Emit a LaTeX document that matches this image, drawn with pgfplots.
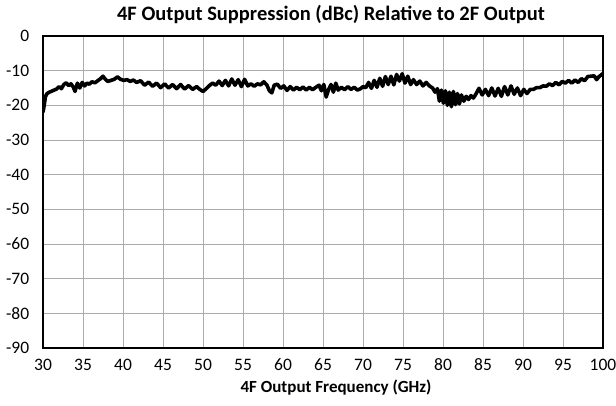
\documentclass[border=0pt]{standalone}
\usepackage{fontspec}
\setmainfont{Carlito}
\usepackage{pgfplots}
\pgfplotsset{compat=1.18}
\pgfplotstableread{
x y
30.0 -22
30.15 -20
30.3 -17.5
30.5 -16.6
30.8 -16.2
31.1 -15.9
31.4 -15.6
31.7 -15.3
32.0 -14.6
32.3 -15.2
32.6 -14.0
32.9 -13.5
33.2 -14.3
33.5 -13.8
33.8 -14.8
34.0 -16.0
34.3 -13.6
34.6 -15.0
34.9 -13.4
35.2 -14.4
35.5 -13.6
35.8 -13.9
36.1 -13.2
36.5 -13.5
36.9 -12.8
37.2 -12.3
37.5 -11.6
37.8 -12.5
38.1 -13.1
38.5 -12.8
38.9 -12.5
39.3 -11.8
39.7 -12.5
40.1 -12.8
40.5 -12.6
40.9 -13.1
41.3 -12.7
41.7 -13.4
42.2 -12.9
42.7 -14.2
43.2 -13.3
43.7 -14.5
44.2 -13.6
44.7 -14.9
45.2 -13.8
45.7 -15.0
46.2 -14.0
46.7 -15.2
47.2 -14.0
47.7 -15.3
48.2 -14.3
48.7 -15.4
49.2 -14.6
49.6 -15.4
50.0 -16.0
50.4 -15.2
50.8 -14.3
51.2 -13.6
51.6 -14.2
52.0 -13.0
52.4 -14.3
52.8 -12.8
53.2 -14.4
53.6 -12.4
54.0 -14.2
54.4 -12.6
54.8 -14.6
55.2 -12.5
55.6 -14.4
56.0 -13.8
56.4 -14.5
56.8 -13.8
57.2 -14.1
57.6 -13.2
58.0 -14.2
58.3 -15.8
58.6 -16.4
58.9 -14.2
59.3 -13.9
59.7 -15.1
60.1 -14.4
60.5 -15.7
60.9 -14.6
61.3 -15.6
61.7 -14.8
62.1 -15.5
62.5 -14.7
62.9 -15.6
63.3 -14.8
63.7 -15.5
64.1 -14.8
64.5 -14.2
64.8 -15.8
65.1 -14.0
65.4 -17.6
65.7 -15.4
66.0 -14.0
66.3 -16.2
66.6 -13.6
66.9 -15.6
67.3 -14.8
67.7 -15.5
68.1 -14.6
68.5 -15.4
68.9 -14.8
69.3 -15.6
69.7 -15.2
70.0 -14.6
70.35 -14.9
70.7 -13.4
71.05 -15.1
71.4 -12.8
71.75 -14.8
72.1 -12.2
72.45 -14.5
72.8 -11.7
73.15 -14.0
73.5 -11.6
73.85 -14.1
74.2 -11.1
74.55 -13.0
74.9 -10.9
75.25 -13.6
75.6 -11.6
75.95 -14.0
76.3 -12.6
76.7 -14.0
77.1 -13.0
77.5 -14.4
77.9 -13.4
78.3 -14.4
78.7 -15.0
79.0 -16.2
79.3 -15.2
79.55 -18.8
79.8 -15.6
80.05 -19.4
80.3 -15.8
80.55 -20.0
80.8 -16.2
81.05 -20.4
81.3 -16.0
81.55 -19.8
81.8 -16.6
82.05 -19.6
82.3 -17.0
82.6 -18.8
82.9 -17.4
83.2 -18.3
83.5 -17.2
83.8 -17.9
84.1 -16.8
84.5 -15.1
84.9 -17.0
85.3 -15.4
85.7 -17.2
86.1 -15.0
86.5 -17.3
86.9 -15.1
87.3 -17.4
87.7 -14.6
88.1 -17.0
88.5 -14.4
88.9 -16.8
89.3 -15.0
89.7 -17.2
90.1 -15.4
90.5 -16.6
90.9 -15.4
91.3 -15.4
91.7 -14.9
92.1 -14.9
92.5 -14.4
92.9 -14.5
93.3 -13.8
93.7 -14.3
94.1 -13.4
94.5 -14.1
94.9 -13.1
95.3 -13.6
95.7 -12.8
96.1 -13.6
96.5 -12.7
96.9 -13.4
97.3 -12.3
97.7 -12.9
98.1 -11.7
98.5 -11.6
98.9 -11.5
99.2 -12.6
99.5 -11.7
99.75 -11.3
100.0 -10.8
}\datatable
\begin{document}
\fontsize{17}{20}\selectfont
\begin{tikzpicture}
\useasboundingbox (0,0) rectangle (616pt,406pt);
\begin{axis}[
  at={(43pt,58pt)}, anchor=south west,
  scale only axis, width=560pt, height=312pt,
  xmin=30, xmax=100, ymin=-90, ymax=0,
  xtick={30,35,...,100}, ytick={-90,-80,...,0},
  grid=major,
  major grid style={draw=black!33, line width=0.9pt},
  axis line style={line width=2.6pt, line cap=rect},
  tick style={draw=none},
  /pgf/number format/assume math mode=true,
  tick label style={font=\fontsize{17.5}{20}\selectfont},
  xticklabel style={anchor=base, yshift=-23pt},
  yticklabel style={anchor=east, xshift=-8pt},
  title={4F Output Suppression (dBc) Relative to 2F Output},
  title style={font=\bfseries\fontsize{20.5}{24}\selectfont, at={(0.5,1)}, anchor=base, yshift=9pt, xshift=8pt},
  xlabel={4F Output Frequency (GHz)},
  xlabel style={font=\bfseries\fontsize{17}{20}\selectfont, at={(0.5,0)}, anchor=base, yshift=-45pt, xshift=13pt},
]
\addplot[black, line width=3.6pt, line join=round] table[x=x,y=y] {\datatable};
\end{axis}
\end{tikzpicture}
\end{document}
